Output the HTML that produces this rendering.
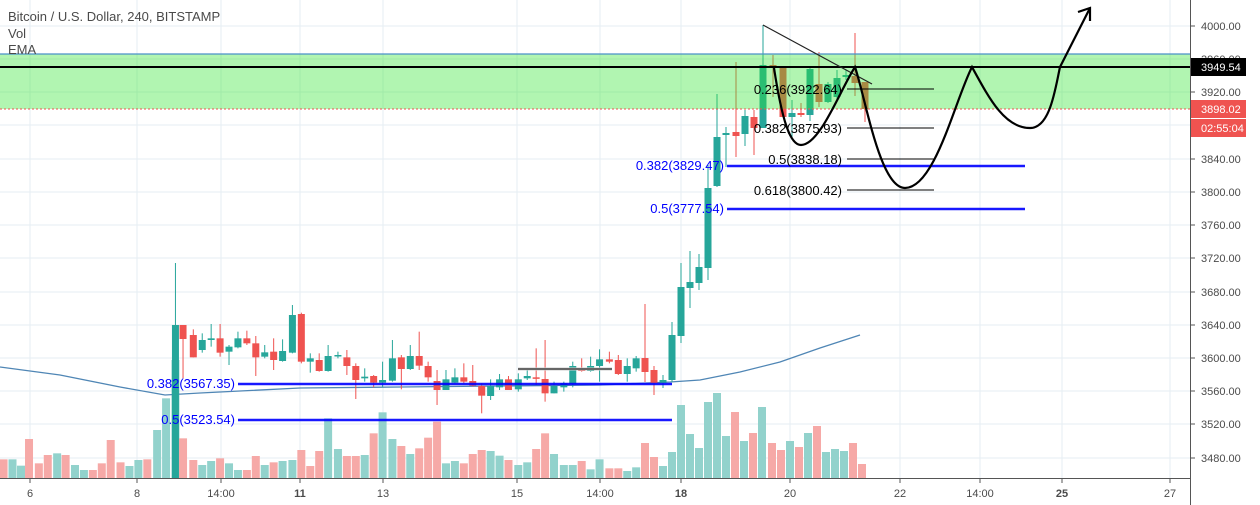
<!DOCTYPE html>
<html><head><meta charset="utf-8"><style>
body{margin:0;background:#fff;width:1260px;height:505px;overflow:hidden}
svg{display:block;font-family:"Liberation Sans",sans-serif}
</style></head><body>
<svg id="s" width="1260" height="505" viewBox="0 0 1260 505" xmlns="http://www.w3.org/2000/svg"></svg>
<script>
const S=document.getElementById('s');let h='';
const G='#26a69a',R='#ef5350';
// grid
[26,59,92,125,159,192,225,258,292,325,358,391,424,458].forEach(y=>h+=`<line x1="0" x2="1190" y1="${y}" y2="${y}" stroke="#e6edf3"/>`);
const xl=[[30,'6'],[137,'8'],[221,'14:00'],[300,'11',1],[383,'13'],[517,'15'],[600,'14:00'],[681,'18',1],[790,'20'],[900,'22'],[980,'14:00'],[1062,'25',1],[1170,'27']];
xl.forEach(a=>{h+=`<line x1="${a[0]}" x2="${a[0]}" y1="0" y2="478" stroke="#e6edf3"/>`;});
// volumes
const v2=[[8,478,R],[28,478,G],[47,497,G],[65,417,R],[87,490,R],[107,465,R],[128,460,G],[147,465,R],[168,495,G],[188,510,G],[208,510,R],[228,490,R],[248,420,R],[270,487,R],[290,498,G],[310,480,G],[330,478,R],[352,390,G],[372,295,G],[393,180,G],[410,415,R],[433,480,R],[453,495,G],[473,483,G],[493,475,R],[513,490,G],[533,510,G],[553,510,R],[573,468,R],[593,495,G],[613,487,R],[633,483,G],[655,480,G],[675,450,R],[695,498,R],[715,453,R],[735,355,G],[757,447,G],[777,468,R],[797,468,R],[817,465,G],[837,400,R],[857,337,G],[879,417,G],[899,438,R],[919,462,G],[939,445,R],[959,413,R],[979,365,R],[999,490,G],[1019,483,G],[1039,490,R],[1059,462,R],[1079,450,R],[1099,453,G],[1119,467,G],[1139,480,R],[1161,495,G],[1181,487,G],[1201,447,R],[1221,400,R],[1241,462,G],[1263,495,G],[1283,495,G],[1303,483,R],[1323,508,G],[1343,478,G],[1365,505,R],[1385,505,R],[1405,513,G],[1425,502,G]];
const vols=v2.map(a=>[a[0]/2.24,300+a[1]/3,a[2]]);
[[645,443,R],[654,457,R],[663,466,G],[672,452,G],[681,405,G],[690,434,G],[699,448,G],[708,402,G],[717,393,G],[726,436,G],[735,412,R],[744,441,G],[753,433,R],[762,407,G],[772,443,R],[781,450,R],[790,441,G],[799,447,R],[808,433,G],[817,426,R],[826,452,G],[835,449,G],[844,451,G],[853,443,R],[862,464,R]].forEach(a=>vols.push(a));
vols.forEach(a=>{h+=`<rect x="${a[0]-4}" y="${a[1]}" width="8" height="${478-a[1]}" fill="${a[2]==G?'#92d2cc':'#f6a9a7'}"/>`;});
// EMA
h+=`<polyline fill="none" stroke="#4f86b5" stroke-width="1.3" points="0,367 60,375 120,387 165,395 200,393 300,388 400,387 500,386 600,385 670,382 700,380 740,372 780,362 820,348 860,335"/>`;
// candles
const c2=[[393,75,535,0,535],[410,75,117,75,235,R],[433,105,172,88,172,R],[453,120,150,100,158],[473,115,120,72,140],[493,115,158,72,170,R],[513,140,155,135,195],[533,115,142,95,145],[553,115,130,92,135,R],[573,130,172,108,228,R],[593,157,170,135,175],[613,155,180,115,210,R],[633,153,183,118,185],[655,45,158,15,160],[675,42,185,38,190,R],[695,175,185,160,218],[715,180,213,160,215,R],[735,168,213,135,215],[757,165,167,155,175],[777,172,198,150,225,R],[797,198,240,190,297,R],[817,230,235,205,245],[837,228,248,225,262,R],[857,240,248,185,262],[879,175,242,120,245],[899,172,207,165,268,R],[919,168,207,135,210],[939,168,197,95,210,R],[959,198,232,185,245,R],[979,243,270,210,315,R],[999,238,270,210,270],[1019,232,248,205,250],[1039,232,245,190,250,R],[1059,243,257,195,260,R],[1079,258,287,250,340,R],[1099,258,288,238,300],[1119,238,262,222,270],[1139,238,270,228,270,R],[1161,238,268,220,275],[1181,228,235,205,240],[1201,232,235,145,255,R],[1221,237,280,120,305,R],[1241,258,280,245,280],[1263,250,262,245,275],[1283,198,252,185,262],[1303,205,213,175,215,R],[1323,198,213,170,215],[1343,178,198,148,245],[1365,178,185,155,190,R],[1385,180,222,165,225,R],[1405,198,222,175,245],[1425,175,205,168,215]];
const C=c2.map(a=>[a[0]/2.24,300+a[1]/3,300+a[2]/3,300+a[3]/3,300+a[4]/3,a[5]||G]);
C[0][3]=263;
[[645,358,372,304,382,R],[654,370,383,366,395,R],[663,380,383,375,388,G],[672,335,380,322,382,G],[681,287,336,263,343,G],[690,282,288,251,308,G],[699,267,283,254,290,G],[708,188,268,165,280,G],[717,137,186,94,187,G],[726,133,135,127,167,G],[736,132,136,62,157,R],[745,116,134,110,146,G],[754,117,128,110,155,R],[763,65,128,25,128,G],[773,65,68,55,97,R],[783,68,117,66,117,R],[792,113,117,100,140,G],[801,113,115,103,117,R],[810,69,115,68,121,G],[819,84,102,52,107,R],[828,84,102,82,103,G],[837,78,97,70,99,G],[846,75,77,70,80,G],[855,76,83,33,96,R],[865,82,109,82,122,R]].forEach(a=>C.push(a));
C.forEach(a=>{const[x,t,b,wt,wb,c]=a;h+=`<line x1="${x}" x2="${x}" y1="${wt}" y2="${wb}" stroke="${c}"/><rect x="${x-3.5}" y="${t}" width="7" height="${Math.max(1.5,b-t)}" fill="${c}"/>`;});
// zone
h+=`<rect x="0" y="54" width="1190" height="55" fill="rgba(50,230,50,0.38)"/>`;
h+=`<line x1="0" x2="1190" y1="54" y2="54" stroke="#4a90c8" stroke-width="1.3"/>`;
h+=`<line x1="0" x2="1190" y1="109" y2="109" stroke="#ef5350" stroke-dasharray="2,2"/>`;
h+=`<line x1="0" x2="1190" y1="67" y2="67" stroke="#000" stroke-width="2"/>`;
// fib blue
const bl=(x1,x2,y)=>h+=`<line x1="${x1}" x2="${x2}" y1="${y}" y2="${y}" stroke="#0000ff" stroke-width="2.5" opacity=".9"/>`;
bl(238,672,384);bl(238,672,420);bl(727,1025,166);bl(727,1025,209);
const bt=(x,y,t)=>h+=`<text x="${x}" y="${y+4}" text-anchor="end" font-size="13" fill="#0000ff">${t}</text>`;
bt(235,384,'0.382(3567.35)');bt(235,420,'0.5(3523.54)');bt(724,166,'0.382(3829.47)');bt(724,209,'0.5(3777.54)');
// fib black
[[89,'0.236(3922.64)'],[128,'0.382(3875.93)'],[159,'0.5(3838.18)'],[190,'0.618(3800.42)']].forEach(a=>{h+=`<text x="842" y="${a[0]+5}" text-anchor="end" font-size="13" fill="#000">${a[1]}</text><line x1="847" x2="934" y1="${a[0]}" y2="${a[0]}" stroke="#000"/>`;});
h+=`<line x1="518" x2="612" y1="369" y2="369" stroke="#ccc" stroke-width="3"/><line x1="518" x2="612" y1="369" y2="369" stroke="#000"/>`;
// trend & drawing
h+=`<line x1="763" y1="25" x2="872" y2="84" stroke="#222" stroke-width="1.2"/>`;
h+=`<path d="M774,68 C782,120 790,145 801,145 C820,145 840,90 855,67 C866,100 880,188 905,188 C935,188 955,100 972,67 C990,100 1005,128 1030,128 C1050,128 1055,90 1060,67 L1090,8" fill="none" stroke="#000" stroke-width="2.2"/>`;
h+=`<path d="M1078,12 L1090,8 L1090,21" fill="none" stroke="#000" stroke-width="2.2"/>`;
// axes
h+=`<rect x="1190" y="0" width="70" height="505" fill="#fff"/><rect x="0" y="478" width="1190" height="27" fill="#fff"/>`;
h+=`<line x1="1190.5" x2="1190.5" y1="0" y2="505" stroke="#555"/><line x1="0" x2="1190" y1="478.5" y2="478.5" stroke="#555"/>`;
[[4000,26],[3960,59],[3920,92],[3880,125],[3840,159],[3800,192],[3760,225],[3720,258],[3680,292],[3640,325],[3600,358],[3560,391],[3520,424],[3480,458]].forEach(a=>{h+=`<line x1="1190" x2="1195" y1="${a[1]}" y2="${a[1]}" stroke="#555"/><text x="1201" y="${a[1]+4}" font-size="11" fill="#4a4a4a">${a[0]}.00</text>`;});
xl.forEach(a=>{h+=`<line x1="${a[0]}" x2="${a[0]}" y1="478" y2="483" stroke="#555"/><text x="${a[0]}" y="497" text-anchor="middle" font-size="11" ${a[2]?'font-weight="bold"':''} fill="#4a4a4a">${a[1]}</text>`;});
const tag=(y,t,bg)=>h+=`<rect x="1191" y="${y-9}" width="55" height="18" fill="${bg}"/><text x="1201" y="${y+4}" font-size="11" fill="#fff">${t}</text>`;
tag(67,'3949.54','#000');tag(109,'3898.02','#ef5350');tag(128,'02:55:04','#ef5350');
h+=`<text x="8" y="21" font-size="13" fill="#4a4a4a">Bitcoin / U.S. Dollar, 240, BITSTAMP</text><text x="8" y="38" font-size="13" fill="#4a4a4a">Vol</text><text x="8" y="54" font-size="13" fill="#4a4a4a">EMA</text>`;
S.innerHTML=h;
</script>
</body></html>
